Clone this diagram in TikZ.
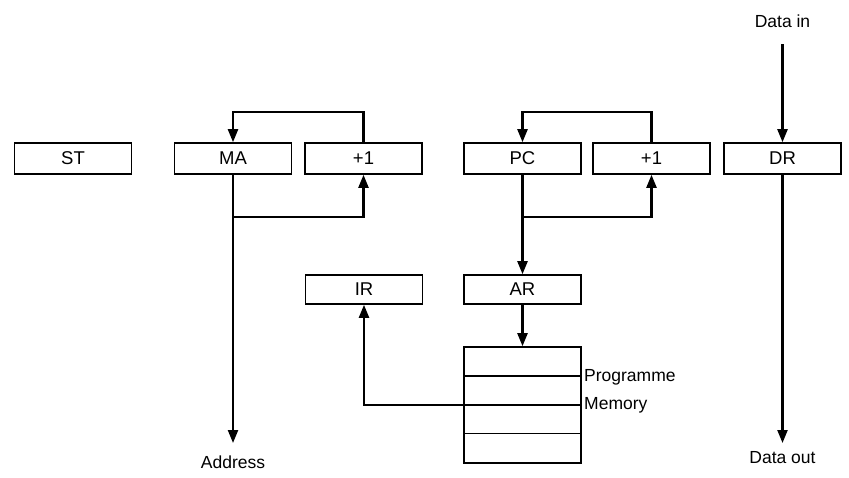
\documentclass[tikz,border=0pt]{standalone}
\usepackage{fontspec}
\setmainfont{Liberation Sans}
\usetikzlibrary{arrows.meta}
\begin{document}
\begin{tikzpicture}[x=1pt,y=-1pt,
  reg/.style={draw, line width=1.6pt, minimum width=117pt, minimum height=31pt, inner sep=0pt, font=\fontsize{18.5}{22}\selectfont},
  lbl/.style={inner sep=1pt, font=\fontsize{17.5}{21}\selectfont},
  conn/.style={line width=2.2pt},
  arr/.style={conn, -{Triangle[length=13pt,width=10pt]}}]
\useasboundingbox (0,0) rectangle (849,477);
% registers
\node[reg] (st)   at (73,158.5)    {ST};
\node[reg] (ma)   at (233,158.5)   {MA};
\node[reg] (inca) at (363.5,158.5) {+1};
\node[reg] (pc)   at (522.5,158.5) {PC};
\node[reg] (incb) at (651.5,158.5) {+1};
\node[reg] (dr)   at (782.5,158.5) {DR};
\node[reg, minimum height=29pt] (ir) at (364,289.5)   {IR};
\node[reg, minimum height=29pt] (ar) at (522.5,289.5) {AR};
% memory
\node[draw, line width=1.6pt, minimum width=117pt, minimum height=116pt, inner sep=0pt] (mem) at (522.5,405) {};
\draw[line width=1.3pt] (mem.west |- 0,376) -- (mem.east |- 0,376);
\draw[line width=1.3pt] (mem.west |- 0,405) -- (mem.east |- 0,405);
\draw[line width=1.3pt] (mem.west |- 0,433.5) -- (mem.east |- 0,433.5);
\node[lbl, anchor=west] (prog) at (583,377) {Programme};
\node[lbl, anchor=west] (memlbl) at (583,405) {Memory};
% outer labels
\node[lbl] (din)  at (782.5,21)  {Data in};
\node[lbl] (dout) at (782.5,458) {Data out};
\node[lbl] (addr) at (233,462)   {Address};
\coordinate (dintop) at (782.5,44);
\coordinate (douttip) at (782.5,443);
\coordinate (addrtip) at (233,443);
\coordinate (mabr) at (233,217);
\coordinate (pcbr) at (522.5,217);
% MA loop
\draw[arr] (inca.north) -- ++(0,-30) -| (ma.north);
\draw[arr] (ma.south) -- (addrtip);
\draw[arr] (mabr) -| (inca.south);
% PC loop
\draw[arr] (incb.north) -- ++(0,-30) -| (pc.north);
\draw[arr] (pc.south) -- (ar.north);
\draw[arr] (pcbr) -| (incb.south);
\draw[arr] (ar.south) -- (mem.north);
% memory to IR
\draw[arr] (mem.west) -| (ir.south);
% data
\draw[arr] (dintop) -- (dr.north);
\draw[arr] (dr.south) -- (douttip);
\end{tikzpicture}
\end{document}
